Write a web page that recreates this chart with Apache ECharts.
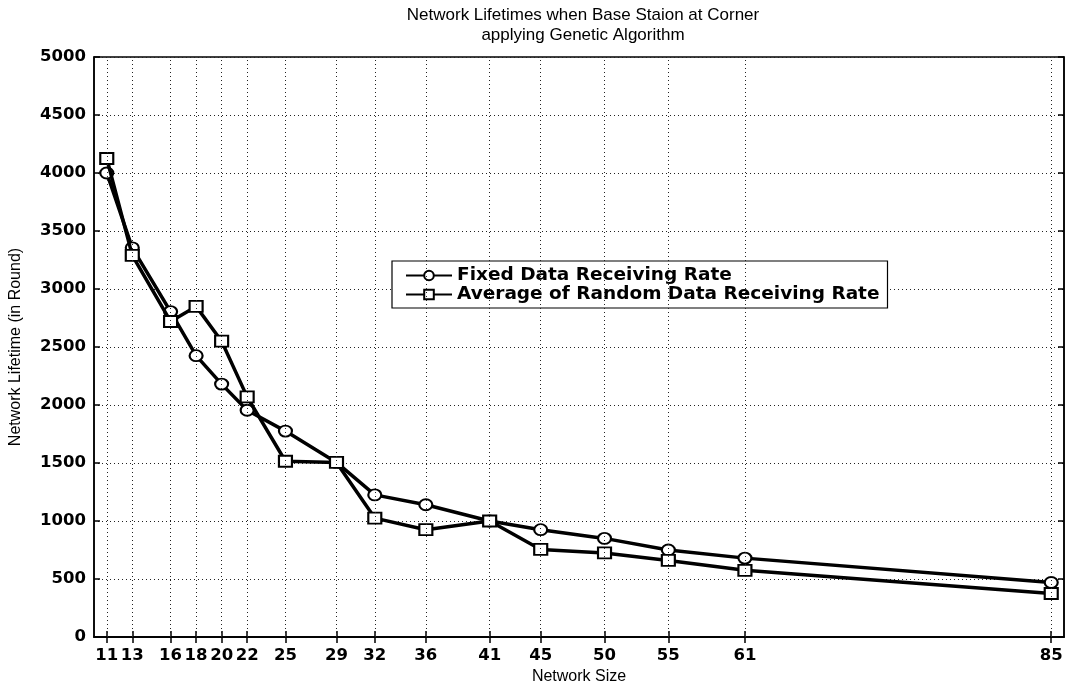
<!DOCTYPE html>
<html>
<head>
<meta charset="utf-8">
<title>Network Lifetimes</title>
<script src="https://cdn.jsdelivr.net/npm/echarts@6/dist/echarts.min.js"></script>
<style>
  html, body { margin: 0; padding: 0; background: #fff; }
  #chart { width: 1067px; height: 690px; }
</style>
</head>
<body>
<div id="chart"></div>
<script>
// network sizes (x ticks are the same values)
const networkSizes = [11, 13, 16, 18, 20, 22, 25, 29, 32, 36, 41, 45, 50, 55, 61, 85]
// lifetimes in rounds
const fixedRate = [4000, 3355, 2805, 2425, 2180, 1955, 1775, 1505, 1225, 1140, 1000, 925, 850, 750, 680, 470]
const randomRate = [4125, 3290, 2720, 2850, 2550, 2070, 1515, 1505, 1025, 925, 1000, 755, 725, 660, 575, 375]

const titleFont = '"Liberation Sans", Arial, sans-serif'
const wideFont = '"DejaVu Sans", sans-serif'

const toPairs = (ys) => networkSizes.map((x, i) => [x, ys[i]])

const chart = echarts.init(document.getElementById('chart'))

const tickLabel = { fontFamily: wideFont, fontSize: 16.5, fontWeight: 'bold', color: '#000' }
const frameLine = { show: true, lineStyle: { color: '#000', width: 1.5 } }
const gridDots = { color: '#222', width: 1, type: [1, 3] }

const option = {
  backgroundColor: '#fff',
  animation: false,
  title: {
    text: 'Network Lifetimes when Base Staion at Corner\napplying Genetic Algorithm',
    left: 578,
    textAlign: 'center',
    top: 0,
    textStyle: { fontFamily: titleFont, fontSize: 17, fontWeight: 'normal', color: '#000', lineHeight: 20 }
  },
  grid: {
    left: 93,
    right: 3,
    top: 57,
    bottom: 48,
    show: true,
    borderColor: '#000',
    borderWidth: 1.5,
    backgroundColor: 'transparent'
  },
  legend: {
    left: 392,
    top: 261,
    orient: 'vertical',
    itemGap: 0,
    itemWidth: 46,
    itemHeight: 12,
    padding: [5, 8, 4, 13],
    borderColor: '#000',
    borderWidth: 1.2,
    backgroundColor: '#fff',
    textStyle: { fontFamily: wideFont, fontSize: 18.5, fontWeight: 'bold', color: '#000', lineHeight: 19 },
    data: ['Fixed Data Receiving Rate', 'Average of Random Data Receiving Rate']
  },
  xAxis: [
    {
      type: 'value',
      min: 10,
      max: 86,
      name: 'Network Size',
      nameLocation: 'middle',
      nameGap: 32,
      nameTextStyle: { fontFamily: titleFont, fontSize: 16, color: '#000' },
      axisLine: frameLine,
      axisTick: { show: true, inside: true, length: 6, customValues: networkSizes, lineStyle: { color: '#000', width: 1.5 } },
      axisLabel: Object.assign({ customValues: networkSizes, margin: 10 }, tickLabel),
      splitLine: { show: false }
    },
    {
      // top frame ticks
      type: 'value',
      position: 'top',
      min: 10,
      max: 86,
      axisLine: frameLine,
      axisTick: { show: true, inside: true, length: 6, customValues: networkSizes, lineStyle: { color: '#000', width: 1.5 } },
      axisLabel: { show: false },
      splitLine: { show: false }
    }
  ],
  yAxis: [
    {
      type: 'value',
      min: 0,
      max: 5000,
      interval: 500,
      name: 'Network Lifetime (in Round)',
      nameLocation: 'middle',
      nameGap: 70,
      nameTextStyle: { fontFamily: titleFont, fontSize: 16, color: '#000' },
      axisLine: frameLine,
      axisTick: { show: true, inside: true, length: 6, lineStyle: { color: '#000', width: 1.5 } },
      axisLabel: Object.assign({ margin: 8, formatter: (v) => String(v) }, tickLabel),
      splitLine: { show: true, lineStyle: gridDots }
    },
    {
      // right frame ticks
      type: 'value',
      position: 'right',
      min: 0,
      max: 5000,
      interval: 500,
      axisLine: frameLine,
      axisTick: { show: true, inside: true, length: 6, lineStyle: { color: '#000', width: 1.5 } },
      axisLabel: { show: false },
      splitLine: { show: false }
    }
  ],
  series: [
    {
      name: 'Fixed Data Receiving Rate',
      type: 'line',
      data: toPairs(fixedRate),
      symbol: 'emptyCircle',
      symbolSize: [13, 11],
      z: 3,
      lineStyle: { color: '#000', width: 3.5 },
      itemStyle: { color: '#000', borderColor: '#000', borderWidth: 2.5 },
      // vertical dotted grid lines at each x tick
      markLine: {
        silent: true,
        symbol: 'none',
        label: { show: false },
        lineStyle: gridDots,
        data: networkSizes.map((v) => ({ xAxis: v }))
      }
    },
    {
      name: 'Average of Random Data Receiving Rate',
      type: 'line',
      data: toPairs(randomRate),
      symbol: 'emptyRect',
      symbolSize: [13, 11],
      z: 4,
      lineStyle: { color: '#000', width: 3.5 },
      itemStyle: { color: '#000', borderColor: '#000', borderWidth: 2.5 }
    }
  ]
}

chart.setOption(option)

window.addEventListener('resize', () => chart.resize())
</script>
</body>
</html>
